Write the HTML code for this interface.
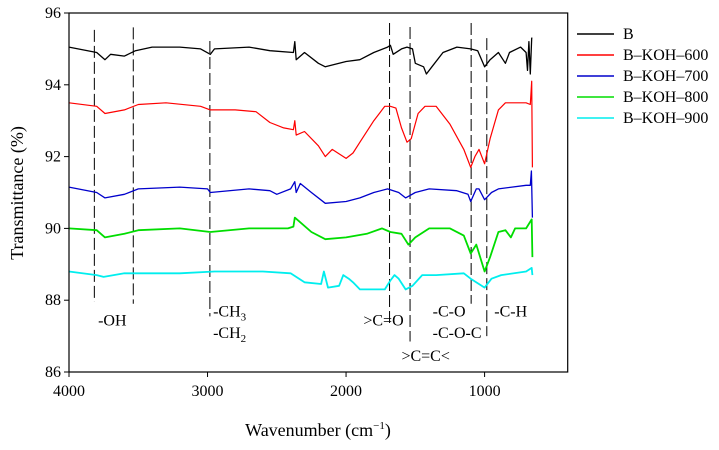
<!DOCTYPE html>
<html><head><meta charset="utf-8">
<style>
html,body{margin:0;padding:0;background:#fff;}
svg, svg text{font-family:"Liberation Serif","Times New Roman",serif;}
</style></head>
<body>
<svg id="chart" width="719" height="445" viewBox="0 0 719 445" xmlns="http://www.w3.org/2000/svg" font-family="Liberation Serif, serif">
<g id="plot"></g>
</svg>
<script>
const xTicks=[4000,3000,2000,1000];
const yTicks=[86,88,90,92,94,96];
const seriesNames=["B","B–KOH–600","B–KOH–700","B–KOH–800","B–KOH–900"];
const seriesColors=["#000000","#ff0000","#0000cc","#00dd00","#00eeee"];
const wnB=[4000,3800,3740,3700,3600,3520,3400,3200,3050,2980,2950,2700,2550,2380,2370,2360,2300,2200,2150,2000,1900,1800,1700,1680,1660,1600,1560,1520,1500,1440,1420,1380,1300,1200,1100,1050,1000,960,900,850,820,740,700,690,680,670,660,655];
const tB=[95.05,94.9,94.7,94.85,94.8,94.95,95.05,95.05,95.0,94.85,95.0,95.05,94.95,94.9,95.2,94.7,94.9,94.6,94.5,94.65,94.7,94.9,95.05,95.1,94.85,95.0,95.05,95.0,94.6,94.5,94.3,94.5,94.9,95.05,95.0,94.95,94.5,94.7,94.9,94.6,94.9,95.05,94.9,94.4,95.2,94.3,95.3,95.3];
const wn600=[4000,3800,3740,3600,3500,3300,3050,2980,2800,2650,2550,2450,2380,2370,2360,2300,2200,2150,2100,2000,1950,1900,1800,1720,1680,1640,1600,1560,1530,1480,1430,1350,1250,1150,1100,1070,1040,1000,960,900,850,700,670,660,655];
const t600=[93.5,93.4,93.2,93.3,93.45,93.5,93.4,93.3,93.3,93.25,92.95,92.8,92.75,93.0,92.6,92.7,92.3,92.0,92.2,91.95,92.1,92.4,93.0,93.4,93.4,93.35,92.8,92.4,92.5,93.2,93.4,93.4,92.9,92.2,91.7,92.0,92.2,91.8,92.5,93.3,93.5,93.5,93.45,94.1,91.7];
const wn700=[4000,3800,3740,3600,3500,3200,3000,2980,2700,2550,2500,2400,2370,2360,2330,2250,2150,2000,1900,1800,1700,1620,1570,1500,1400,1200,1120,1100,1060,1040,1000,950,900,700,670,662,655];
const t700=[91.15,91.0,90.85,90.95,91.1,91.15,91.1,91.0,91.1,91.05,90.95,91.1,91.3,91.0,91.25,91.0,90.7,90.75,90.85,91.0,91.1,91.0,90.85,91.0,91.1,91.05,90.95,90.75,91.1,91.1,90.8,91.0,91.1,91.2,91.2,91.6,90.3];
const wn800=[4000,3800,3740,3600,3500,3200,2980,2700,2420,2380,2370,2340,2250,2150,2000,1850,1740,1680,1600,1550,1500,1400,1250,1150,1100,1060,1000,960,900,850,810,780,700,660,655];
const t800=[90.0,89.95,89.75,89.85,89.95,90.0,89.9,90.0,90.0,90.05,90.3,90.2,89.9,89.7,89.75,89.85,90.0,89.9,89.85,89.55,89.75,90.0,90.0,89.8,89.3,89.55,88.8,89.2,89.9,89.95,89.75,90.0,90.0,90.25,89.2];
const wn900=[4000,3800,3750,3600,3200,2950,2600,2400,2300,2180,2160,2130,2050,2020,1980,1950,1900,1720,1680,1650,1620,1570,1520,1450,1350,1150,1100,1000,950,880,700,660,655];
const t900=[88.8,88.7,88.65,88.75,88.75,88.8,88.8,88.75,88.5,88.45,88.8,88.35,88.4,88.7,88.6,88.5,88.3,88.3,88.55,88.7,88.6,88.3,88.4,88.7,88.7,88.75,88.6,88.35,88.6,88.7,88.8,88.9,88.7];
const markerWn=[3817,3536,2983,1686,1538,1097,984];
const markerTop=[95.53,95.6,95.22,95.72,95.61,95.72,95.3];
const markerBot=[87.95,87.9,87.55,87.3,86.85,87.9,87.0];
const annText=["-OH",">C=O",">C=C<","-C-O","-C-O-C","-C-H"];
const annWn=[3790,1875,1600,1375,1375,930];
const annT=[87.3,87.3,86.3,87.55,86.95,87.55];

const L=69,R=567.7,T=13,B=372;
const xS=w=>L+(4000-w)*(R-L)/3600;
const yS=v=>T+(96-v)*(B-T)/10;
const NS="http://www.w3.org/2000/svg";
const FONT="Liberation Serif, Times New Roman, serif";
const svg=document.getElementById('chart');
const plot=document.getElementById('plot');
function mk(tag,attrs,parent){const e=document.createElementNS(NS,tag);for(const k in attrs)e.setAttribute(k,attrs[k]);if(tag==='text')e.setAttribute('font-family',FONT);(parent||svg).appendChild(e);return e;}

markerWn.forEach((w,i)=>{
  const l=mk('line',{x1:xS(w),x2:xS(w),y1:yS(markerTop[i]),y2:yS(markerBot[i]),stroke:'#000','stroke-width':1,'stroke-dasharray':'12,4'},plot);
  
  
});
const wns=[wnB,wn600,wn700,wn800,wn900], ts=[tB,t600,t700,t800,t900];
const widths=[1.3,1.2,1.3,1.8,1.8];
wns.forEach((w,s)=>{
  const d=w.map((x,i)=>(i?'L':'M')+xS(x).toFixed(1)+','+yS(ts[s][i]).toFixed(1)).join('');
  const p=mk('path',{d:d,fill:'none',stroke:seriesColors[s],'stroke-width':widths[s],'stroke-linejoin':'round'},plot);
  
  
});
annText.forEach((t,i)=>{
  const e=mk('text',{x:xS(annWn[i]),y:yS(annT[i]),'font-size':16,fill:'#000'});
  e.textContent=t;
  
  
});
[["-CH","3",87.55],["-CH","2",86.95]].forEach(a=>{
  const e=mk('text',{x:xS(2960),y:yS(a[2]),'font-size':16,fill:'#000'});
  
  
  e.appendChild(document.createTextNode(a[0]));
  const sub=mk('tspan',{'font-size':11,dy:4},e);sub.textContent=a[1];
});
const fr=mk('rect',{x:L,y:T,width:R-L,height:B-T,fill:'none',stroke:'#000','stroke-width':1.2});


yTicks.forEach(v=>{
  mk('line',{x1:L-5,x2:L,y1:yS(v),y2:yS(v),stroke:'#000','stroke-width':1});
  const t=mk('text',{x:L-8,y:yS(v)+5,'font-size':16,'text-anchor':'end'});
  t.textContent=v;
  
  
});
xTicks.forEach(v=>{
  mk('line',{x1:xS(v),x2:xS(v),y1:B,y2:B+5,stroke:'#000','stroke-width':1});
  const t=mk('text',{x:xS(v),y:B+24,'font-size':16,'text-anchor':'middle'});
  t.textContent=v;
  
  
});
const yt=mk('text',{x:0,y:0,'font-size':18,'text-anchor':'middle',transform:'translate(23,193) rotate(-90)'});
yt.textContent='Transmittance (%)';


const xt=mk('text',{x:318,y:436,'font-size':18,'text-anchor':'middle'});


xt.appendChild(document.createTextNode('Wavenumber (cm'));
const sup=mk('tspan',{'font-size':11,dy:-7},xt);sup.textContent='−1';
const cl=mk('tspan',{dy:7},xt);cl.textContent=')';
seriesNames.forEach((n,i)=>{
  const y=34+i*21;
  const g=mk('g',{});
  
  
  mk('line',{x1:577,x2:614,y1:y,y2:y,stroke:seriesColors[i],'stroke-width':1.5},g);
  const t=mk('text',{x:623,y:y+5,'font-size':16},g);t.textContent=n;
});
</script>
</body></html>
